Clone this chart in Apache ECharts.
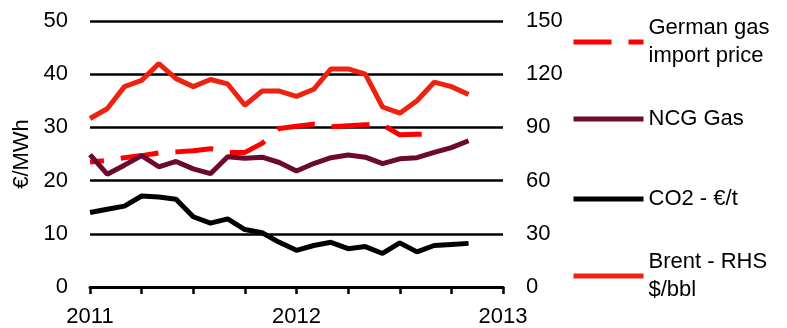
<!DOCTYPE html>
<html>
<head>
<meta charset="utf-8">
<script src="https://cdn.jsdelivr.net/npm/echarts@6/dist/echarts.min.js"></script>
<style>
  html, body { margin: 0; padding: 0; background: #fff; }
  #chart { width: 787px; height: 328px; }
</style>
</head>
<body>
<div id="chart"></div>
<script>
// Monthly values, Jan 2011 .. Nov 2012
const startYear = 2011;

// €/MWh (left axis)
const germanGasImport = [23.5, 23.8, 24.3, 24.7, 25.2, 25.4, 25.6, 26.0, 25.3, 25.3, 27.0, 29.8,
                         30.2, 30.6, 30.1, 30.3, 30.5, 30.5, 28.6, 28.7, 28.8];
const ncgGas = [24.9, 21.2, 22.9, 24.7, 22.6, 23.6, 22.2, 21.3, 24.5, 24.2, 24.4, 23.4,
                21.8, 23.2, 24.3, 24.8, 24.4, 23.2, 24.1, 24.3, 25.3, 26.2, 27.5];
// €/t (left axis)
const co2 = [14.0, 14.6, 15.2, 17.1, 16.9, 16.5, 13.2, 12.0, 12.8, 10.8, 10.2, 8.4,
             6.9, 7.8, 8.4, 7.2, 7.6, 6.3, 8.3, 6.6, 7.8, 8.0, 8.2];
// $/bbl (right axis)
const brent = [95, 100.5, 113, 116.5, 126, 117.5, 113, 117, 114.5, 102.5, 110.5, 110.5,
               107.5, 111.5, 123, 123, 120, 101.5, 98, 105, 115.5, 113, 108.5];

const leftTicks = { min: 0, max: 50, interval: 10 };
const rightTicks = { min: 0, max: 150, interval: 30 };
const yearTicks = { min: 2011, max: 2013 };

function toPairs(values) {
  return values.map((v, i) => [startYear + i / 12, v]);
}

const FONT = 'Liberation Sans, Arial, sans-serif';
const textBase = { color: '#000', fontSize: 22, fontFamily: FONT };

const names = {
  german: 'German gas import price',
  ncg: 'NCG Gas',
  co2: 'CO2 - €/t',
  brent: 'Brent - RHS $/bbl'
};

const colors = { german: '#ff0000', ncg: '#6b0a2e', co2: '#000000', brent: '#ee2211' };

function legendFor(name, top, label, color, twoLine, dashed) {
  const l = {
    data: [name],
    left: 571,
    top: top,
    padding: 0,
    itemWidth: 70,
    itemHeight: 14,
    selectedMode: false,
    formatter: () => label,
    itemStyle: { color: 'rgba(0,0,0,0)', borderWidth: 0, opacity: 0 },
    lineStyle: { color: color, width: 5, type: dashed ? [38, 17] : 'solid', dashOffset: 0 },
    textStyle: Object.assign({}, textBase, { lineHeight: 28 })
  };
  if (twoLine) l.textStyle.padding = [28, 0, 0, 0];
  return l;
}

const chart = echarts.init(document.getElementById('chart'), null, { renderer: 'canvas' });

chart.setOption({
  animation: false,
  backgroundColor: '#fff',
  grid: { left: 90, right: 284, top: 21, bottom: 41, containLabel: false },
  legend: [
    legendFor(names.german, 0, 'German gas\nimport price', colors.german, true, true),
    legendFor(names.ncg, 105, 'NCG Gas', colors.ncg, false, false),
    legendFor(names.co2, 185, 'CO2 - €/t', colors.co2, false, false),
    legendFor(names.brent, 234, 'Brent - RHS\n$/bbl', colors.brent, true, false)
  ],
  xAxis: {
    type: 'value',
    min: yearTicks.min,
    max: yearTicks.max,
    interval: 0.25,
    axisLine: { show: true, lineStyle: { color: '#000', width: 3 } },
    axisTick: { show: true, inside: false, length: 7, lineStyle: { color: '#000', width: 2.5 } },
    splitLine: { show: false },
    axisLabel: Object.assign({}, textBase, {
      margin: 19,
      formatter: v => (Math.abs(v - Math.round(v)) < 1e-6 ? String(Math.round(v)) : '')
    })
  },
  yAxis: [
    {
      type: 'value',
      min: leftTicks.min,
      max: leftTicks.max,
      interval: leftTicks.interval,
      name: '€/MWh',
      nameLocation: 'middle',
      nameGap: 56,
      nameTextStyle: Object.assign({}, textBase),
      axisLine: { show: false },
      axisTick: { show: false },
      splitLine: { show: true, lineStyle: { color: '#000', width: 2.5 } },
      axisLabel: Object.assign({}, textBase, { margin: 22 })
    },
    {
      type: 'value',
      min: rightTicks.min,
      max: rightTicks.max,
      interval: rightTicks.interval,
      position: 'right',
      axisLine: { show: false },
      axisTick: { show: false },
      splitLine: { show: false },
      axisLabel: Object.assign({}, textBase, { margin: 23 })
    }
  ],
  series: [
    {
      name: names.german,
      type: 'line',
      yAxisIndex: 0,
      symbol: 'none',
      data: toPairs(germanGasImport),
      lineStyle: { color: colors.german, width: 5, type: [38, 17], dashOffset: 24 },
      itemStyle: { color: colors.german }
    },
    {
      name: names.ncg,
      type: 'line',
      yAxisIndex: 0,
      symbol: 'none',
      data: toPairs(ncgGas),
      lineStyle: { color: colors.ncg, width: 5 },
      itemStyle: { color: colors.ncg }
    },
    {
      name: names.co2,
      type: 'line',
      yAxisIndex: 0,
      symbol: 'none',
      data: toPairs(co2),
      lineStyle: { color: colors.co2, width: 5 },
      itemStyle: { color: colors.co2 }
    },
    {
      name: names.brent,
      type: 'line',
      yAxisIndex: 1,
      symbol: 'none',
      data: toPairs(brent),
      lineStyle: { color: colors.brent, width: 5 },
      itemStyle: { color: colors.brent }
    }
  ]
});
</script>
</body>
</html>
